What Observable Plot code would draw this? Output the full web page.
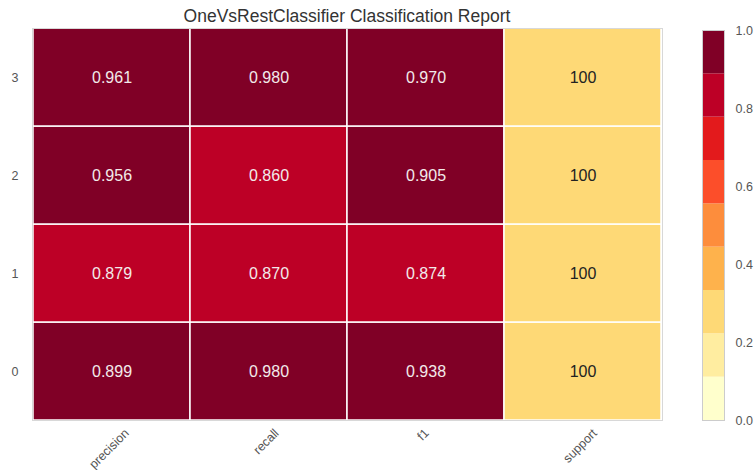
<!DOCTYPE html>
<html>
<head>
<meta charset="utf-8">
<script src="https://cdn.jsdelivr.net/npm/d3@7"></script>
<script src="https://cdn.jsdelivr.net/npm/@observablehq/plot@0.6"></script>
<style>
  html, body { margin: 0; padding: 0; background: #fff; }
  #wrap { position: relative; width: 755px; height: 470px; overflow: hidden; font-family: "Liberation Sans", Arial, sans-serif; }
  #title { position: absolute; left: 32px; width: 630px; top: 6px; text-align: center; font-size: 17.5px; color: #333; line-height: 20px; }
  #main { position: absolute; left: 0; top: 0; }
  #cbar { position: absolute; left: 690px; top: 0; }
</style>
</head>
<body>
<div id="wrap">
  <div id="main"></div>
  <div id="cbar"></div>
  <div id="title">OneVsRestClassifier Classification Report</div>
</div>
<script>
const classes = ["0", "1", "2", "3"];
const metrics = ["precision", "recall", "f1", "support"];
const precision = [0.899, 0.879, 0.956, 0.961];
const recall = [0.980, 0.870, 0.860, 0.980];
const f1 = [0.938, 0.874, 0.905, 0.970];
const support = [100, 100, 100, 100];
const colorTicks = [0.0, 0.2, 0.4, 0.6, 0.8, 1.0];
const palette = d3.schemeYlOrRd[9];

const totalSupport = d3.sum(support);
const rows = [];
classes.forEach((c, i) => {
  rows.push({cls: c, metric: "precision", value: precision[i], label: precision[i].toFixed(3)});
  rows.push({cls: c, metric: "recall", value: recall[i], label: recall[i].toFixed(3)});
  rows.push({cls: c, metric: "f1", value: f1[i], label: f1[i].toFixed(3)});
  rows.push({cls: c, metric: "support", value: support[i] / totalSupport, label: String(support[i])});
});

const nBins = palette.length;
const thresholds = d3.range(1, nBins).map(k => k / nBins);
const colorScale = {type: "threshold", domain: thresholds, range: palette};

const tickFont = 12.5;
// measure tick label widths for matplotlib-like centered rotated labels
const ctx = document.createElement("canvas").getContext("2d");
ctx.font = tickFont + "px 'Liberation Sans'";
const labelMarks = metrics.map(m => {
  const w = ctx.measureText(m).width;
  return Plot.text([m], {
    x: d => d, frameAnchor: "bottom", dy: 9 + (w + tickFont) * 0.354,
    rotate: -45, fontSize: tickFont, fill: "#555", textAnchor: "middle"
  });
});

const main = Plot.plot({
  width: 680,
  height: 470,
  marginTop: 28,
  marginBottom: 50,
  marginLeft: 32,
  marginRight: 18,
  style: {fontFamily: "'Liberation Sans', Arial, sans-serif", background: "transparent"},
  x: {domain: metrics, padding: 0, axis: null},
  y: {domain: classes.slice().reverse(), padding: 0, axis: null},
  color: colorScale,
  marks: [
    Plot.cell(rows, {x: "metric", y: "cls", fill: "value", stroke: "white", strokeWidth: 1.5}),
    Plot.text(rows, {x: "metric", y: "cls", text: "label", fontSize: 16,
      fill: d => d.metric === "support" ? "#222" : "#f2eaea"}),
    Plot.frame({stroke: "#d8d8d8", strokeWidth: 1}),
    Plot.axisY({tickSize: 0, tickPadding: 14, fontSize: tickFont, color: "#555", label: null}),
    ...labelMarks
  ]
});
document.getElementById("main").appendChild(main);

const bands = palette.map((c, k) => ({lo: k / nBins, hi: (k + 1) / nBins, color: c}));
const cbar = Plot.plot({
  width: 65,
  height: 470,
  marginTop: 30,
  marginBottom: 50,
  marginLeft: 12,
  marginRight: 31,
  style: {fontFamily: "'Liberation Sans', Arial, sans-serif", background: "transparent", overflow: "visible"},
  x: {domain: [0, 1], axis: null},
  y: {domain: [0, 1], axis: null},
  marks: [
    Plot.rect(bands, {x1: 0, x2: 1, y1: "lo", y2: "hi", fill: "color"}),
    Plot.frame({stroke: "#cccccc", strokeWidth: 1}),
    Plot.axisY({anchor: "right", ticks: colorTicks, tickFormat: d3.format(".1f"), tickSize: 0, tickPadding: 11, fontSize: tickFont, label: null, color: "#555"})
  ]
});
document.getElementById("cbar").appendChild(cbar);
</script>
</body>
</html>
